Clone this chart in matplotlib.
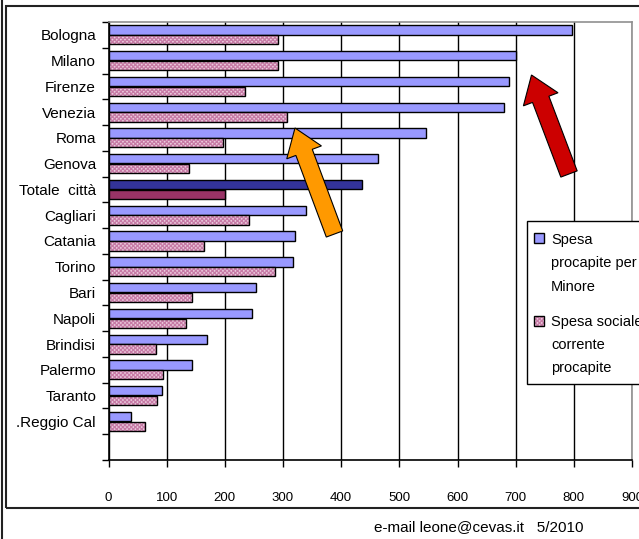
import numpy as np
import matplotlib.pyplot as plt
from matplotlib.patches import Rectangle, FancyArrow
from matplotlib.lines import Line2D

plt.rcParams["font.family"] = ["Liberation Sans", "DejaVu Sans"]
plt.rcParams["hatch.linewidth"] = 0.9

cities = ["Bologna", "Milano", "Firenze", "Venezia", "Roma", "Genova",
          "Totale  città", "Cagliari", "Catania", "Torino", "Bari", "Napoli",
          "Brindisi", "Palermo", "Taranto", ".Reggio Cal"]
spesa_minore = [797, 701, 688, 680, 545, 464, 436, 339, 320, 317,
                253, 247, 170, 143, 92, 39]
spesa_sociale = [291, 291, 234, 307, 197, 138, 200, 242, 164, 287,
                 144, 133, 81, 94, 84, 63]
x_ticks = [0, 100, 200, 300, 400, 500, 600, 700, 800, 900]
legend_labels = [["Spesa", "procapite per", "Minore"],
                 ["Spesa sociale", "corrente", "procapite"]]
footer = "e-mail leone@cevas.it   5/2010"

W, H = 639, 539
BLUE = "#9999FF"
BLUE_TOT = "#333399"
PINK_FACE = "#EBCBDD"
PINK_HATCH = "#C77BA6"
PINK_TOT = "#993366"


def fx(px):
    return px / W


def fy(py):
    return (H - py) / H


fig = plt.figure(figsize=(W / 100, H / 100), dpi=100)

# outer frame
fig.patches.append(Rectangle((fx(6), fy(508)), fx(660) - fx(6), fy(6) - fy(508),
                             transform=fig.transFigure, fill=False,
                             edgecolor="#222222", linewidth=1.5, zorder=0))
fig.lines.append(Line2D([fx(1.5), fx(1.5)], [0, 1], transform=fig.transFigure,
                        color="#222222", linewidth=1.5))

ax = fig.add_axes([fx(108.5), fy(460), fx(632) - fx(108.5), fy(22) - fy(460)])

n = len(cities)
y = np.arange(n)
h = 0.36
off = 0.19
tot = cities.index("Totale  città")

blue_colors = [BLUE_TOT if i == tot else BLUE for i in range(n)]
ax.barh(y - off, spesa_minore, height=h, color=blue_colors,
        edgecolor="black", linewidth=1.0, zorder=3)

# hatched fill, then a black outline on top
for i in range(n):
    if i == tot:
        ax.barh(y[i] + off, spesa_sociale[i], height=h, color=PINK_TOT,
                edgecolor="black", linewidth=1.0, zorder=3)
    else:
        ax.barh(y[i] + off, spesa_sociale[i], height=h, color=PINK_FACE,
                edgecolor=PINK_HATCH, hatch="xxxxxxxx", linewidth=0, zorder=3)
        ax.barh(y[i] + off, spesa_sociale[i], height=h, fill=False,
                edgecolor="black", linewidth=1.0, zorder=4)

ax.set_xlim(0, 900)
ax.set_ylim(n + 0.5, -0.5)
ax.set_xticks(x_ticks)
ax.set_xticklabels([str(v) for v in x_ticks], fontsize=9.5)
ax.set_yticks(np.arange(-0.5, n + 1, 1))
ax.set_yticklabels([])
ax.set_yticks(y, minor=True)
ax.set_yticklabels(cities, minor=True, fontsize=11)
ax.tick_params(axis="y", which="major", length=5, width=1, direction="out")
ax.tick_params(axis="y", which="minor", length=0, pad=9)
ax.tick_params(axis="x", length=5, width=1, direction="out", pad=18)

ax.xaxis.grid(True, color="black", linewidth=1.0, zorder=1)
ax.set_axisbelow(True)
for side in ["top", "right"]:
    ax.spines[side].set_color("#909090")
    ax.spines[side].set_linewidth(1.2)
for side in ["left", "bottom"]:
    ax.spines[side].set_color("black")
    ax.spines[side].set_linewidth(1.2)

# legend drawn by hand (box runs off the right edge)
fig.patches.append(Rectangle((fx(527), fy(384)), fx(700) - fx(527), fy(221) - fy(384),
                             transform=fig.transFigure, facecolor="white",
                             edgecolor="black", linewidth=1.0, zorder=5))
sq_y = [233, 316]
line_y = [[240, 263, 287], [322, 345, 368]]
for k in range(2):
    if k == 0:
        fig.patches.append(Rectangle((fx(534), fy(sq_y[k] + 10)), fx(10), fy(0) - fy(10),
                                     transform=fig.transFigure, facecolor=BLUE,
                                     edgecolor="black", linewidth=1.0, zorder=6))
    else:
        fig.patches.append(Rectangle((fx(534), fy(sq_y[k] + 10)), fx(10), fy(0) - fy(10),
                                     transform=fig.transFigure, facecolor=PINK_FACE,
                                     edgecolor=PINK_HATCH, hatch="xxxxxxxx", linewidth=0,
                                     zorder=6))
        fig.patches.append(Rectangle((fx(534), fy(sq_y[k] + 10)), fx(10), fy(0) - fy(10),
                                     transform=fig.transFigure, fill=False,
                                     edgecolor="black", linewidth=1.0, zorder=7))
    for j, txt in enumerate(legend_labels[k]):
        fig.text(fx(551), fy(line_y[k][j]), txt, fontsize=10.5, va="center",
                 ha="left", zorder=8)

# arrows (in inches, so the shape stays isotropic)
tr = fig.dpi_scale_trans


def arrow(tail, tip, color):
    x0, y0 = tail[0] / 100, (H - tail[1]) / 100
    x1, y1 = tip[0] / 100, (H - tip[1]) / 100
    a = FancyArrow(x0, y0, x1 - x0, y1 - y0, width=0.175, head_width=0.37,
                   head_length=0.26, length_includes_head=True,
                   facecolor=color, edgecolor="black", linewidth=0.8,
                   transform=tr, zorder=10)
    fig.patches.append(a)


arrow((569, 174), (531.5, 75), "#CC0000")
arrow((334.5, 234), (295, 128), "#FF9900")

fig.text(fx(479), fy(527), footer, fontsize=11, ha="center", va="center")

fig.savefig("out.png", dpi=100)
